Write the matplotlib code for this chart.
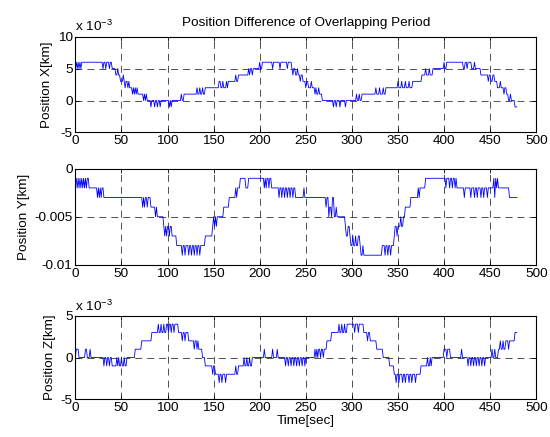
import numpy as np
import matplotlib
matplotlib.use("Agg")
import matplotlib.pyplot as plt

plt.rcParams['font.family'] = ['Liberation Sans', 'DejaVu Sans']
plt.rcParams['mathtext.fontset'] = 'custom'
plt.rcParams['mathtext.rm'] = 'Liberation Sans'
plt.rcParams['lines.scale_dashes'] = False

# level changes: time [sec], level [1e-3 km]
x_time = [0, 1, 2, 3, 4, 5, 6, 7, 8,
          30, 31, 33, 34, 37, 38, 40,
          44, 46, 47, 49, 52, 53, 54, 55, 57, 58, 59,
          62, 63, 64, 65, 66, 67, 68, 74, 75, 76, 77, 78,
          82, 83, 86, 87, 89, 90, 92, 93, 102, 103, 104, 105,
          115, 116, 118, 132, 133, 135, 136, 138, 139, 141,
          156, 158, 160, 161, 164, 165, 166, 174, 175, 177,
          188, 189, 190, 192, 193, 200, 201, 203,
          214, 215, 222, 223, 230, 231, 235, 236, 237, 239, 241, 242,
          244, 245, 247, 250, 251, 253, 256, 257, 260, 261, 262, 264, 265, 268,
          280, 281, 283, 284, 287, 288, 293, 294,
          305, 306, 308, 309, 311,
          326, 327, 330, 331, 334, 335, 337,
          350, 351, 354, 355, 358, 359, 362, 363, 366,
          376, 380, 381, 384, 385, 388, 400, 401, 403,
          421, 423, 425, 426, 430, 433, 434, 440,
          448, 449, 451, 453, 455, 458, 461, 462, 465, 466, 468, 470, 472, 473, 477, 479]
x_level = [5, 6, 5, 6, 5, 6, 5, 6, 6,
           5, 6, 5, 6, 5, 6, 5,
           4, 5, 4, 3, 4, 3, 2, 3, 2, 3, 2,
           1, 2, 1, 2, 1, 2, 1, 0, 1, 0, 1, 0,
           -1, 0, -1, 0, -1, 0, -1, 0, -1, 0, -1, 0,
           1, 0, 1, 2, 1, 2, 1, 2, 1, 2,
           3, 2, 3, 2, 3, 2, 3, 4, 3, 4,
           5, 4, 5, 4, 5, 6, 5, 6,
           5, 6, 5, 6, 5, 6, 5, 4, 5, 4, 5, 4,
           3, 4, 3, 2, 3, 2, 3, 2, 1, 2, 1, 2, 1, 0,
           -1, 0, -1, 0, -1, 0, -1, 0,
           1, 0, 1, 0, 1,
           2, 1, 2, 1, 2, 1, 2,
           3, 2, 3, 2, 3, 2, 3, 2, 3,
           4, 5, 4, 5, 4, 5, 6, 5, 6,
           5, 6, 5, 6, 5, 6, 5, 4,
           3, 4, 3, 4, 3, 2, 3, 2, 1, 2, 1, 0, 1, 0, -1, -1]

y_time = [0, 2, 3, 4, 5, 6, 7, 8, 9, 10, 11, 12, 13, 15,
          24, 25, 26, 27, 28, 29, 31, 33,
          73, 74, 75, 76, 78, 79, 82, 87, 88, 89, 91,
          96, 97, 98, 99, 100, 102, 103, 105, 110,
          116, 117, 119, 120, 123, 124, 126, 127, 129, 130, 132, 133, 135, 136, 138,
          141, 149, 150, 151, 152, 153, 154, 157, 161, 167, 174, 175, 176, 177, 179,
          185, 188, 205, 206, 207, 208, 210, 211, 213, 215,
          221, 222, 224, 225, 227, 228, 230, 231, 233, 234, 236, 237, 239, 248, 249,
          272, 273, 275, 276, 278, 279, 281, 283, 284, 286,
          293, 294, 296, 298, 299, 301, 302, 304, 305, 307, 309, 310, 312, 313, 315,
          333, 336, 337, 339, 340, 342, 343, 346, 347, 349, 350, 353, 354, 356, 358, 364,
          372, 373, 374, 375, 380,
          402, 403, 406, 407, 409, 410, 412, 413, 414,
          422, 423, 429, 430, 433, 434, 436, 437, 440, 441, 443, 444, 447, 448,
          454, 455, 456, 457, 458, 459, 460, 471, 479]
y_level = [-1, -2, -1, -2, -1, -2, -1, -2, -1, -2, -1, -2, -1, -2,
           -3, -2, -3, -2, -3, -2, -3, -3,
           -4, -3, -4, -3, -4, -3, -4, -5, -4, -5, -5,
           -6, -7, -6, -7, -6, -7, -6, -7, -8,
           -9, -8, -9, -8, -9, -8, -9, -8, -9, -8, -9, -8, -9, -8, -8,
           -7, -6, -5, -6, -5, -6, -5, -5, -4, -3, -2, -3, -2, -2, -1,
           -2, -1, -2, -1, -2, -1, -2, -1, -2, -2,
           -3, -2, -3, -2, -3, -2, -3, -2, -3, -2, -3, -2, -3, -2, -3,
           -4, -3, -5, -4, -5, -3, -5, -4, -5, -5,
           -6, -7, -6, -7, -8, -7, -8, -7, -8, -7, -8, -9, -8, -9, -9,
           -8, -9, -8, -9, -8, -9, -8, -7, -6, -7, -6, -5, -6, -5, -4, -3,
           -2, -3, -2, -2, -1,
           -2, -1, -2, -1, -2, -1, -2, -1, -2,
           -3, -2, -3, -2, -3, -2, -3, -2, -3, -2, -3, -2, -3, -2,
           -1, -3, -1, -2, -1, -2, -2, -3, -3]

z_time = [0, 1, 4, 11, 13, 16, 17, 18,
          31, 32, 34, 35, 37, 38, 40, 45, 46, 47, 48, 50, 51, 53, 54, 56, 58,
          65, 72, 83, 90, 91, 93, 94, 96, 97, 99,
          101, 102, 104, 105, 107, 108, 112, 116, 117, 119, 120, 123,
          129, 130, 132, 133, 134, 138, 141, 149, 150, 152,
          156, 157, 159, 160, 163, 164, 174, 175, 177, 179, 183, 184, 186, 187, 189, 190, 192,
          205, 206, 214, 215, 219, 220,
          228, 229, 231, 232, 234, 235, 237, 238, 240, 241, 243, 244, 246, 247, 249, 250, 253,
          260, 261, 262, 263, 264, 266, 267, 269, 270, 273, 278,
          286, 287, 289, 290, 292, 293, 295, 297, 303, 304, 307, 308, 313,
          317, 318, 320, 322, 327, 334, 341, 346,
          348, 349, 351, 352, 355, 356, 358, 359, 362, 363, 365, 366, 369, 370, 372, 375,
          382, 383, 385, 386, 387, 400, 403, 404, 407, 419, 420,
          426, 427, 429, 430, 432, 433, 435, 436, 438, 439, 441, 442, 444, 445, 447,
          452, 453, 455, 456, 459, 461, 462, 464, 465, 467, 470, 471, 477, 479]
z_level = [0, 1, 0, 1, 0, 1, 0, 0,
           -1, 0, -1, 0, -1, 0, -1, 0, -1, 0, -1, 0, -1, 0, -1, 0, 0,
           1, 2, 3, 4, 3, 4, 3, 4, 3, 4,
           3, 4, 3, 4, 3, 4, 3, 2, 3, 2, 3, 2,
           1, 2, 1, 2, 1, 0, -1, -2, -1, -2,
           -3, -2, -3, -2, -3, -2, -1, -2, -1, -1, 0, -1, 0, -1, 0, -1, 0,
           1, 0, 1, 0, 1, 0,
           -1, 0, -1, 0, -1, 0, -1, 0, -1, 0, -1, 0, -1, 0, -1, 0, 0,
           1, 0, 1, 0, 1, 0, 1, 0, 1, 2, 3,
           4, 3, 4, 3, 4, 3, 4, 4, 3, 4, 3, 4, 3,
           2, 3, 2, 2, 1, 0, -1, -2,
           -3, -2, -3, -2, -3, -2, -3, -2, -3, -2, -3, -2, -3, -2, -2, -1,
           0, -1, 0, -1, 0, 1, 0, 1, 0, 1, 0,
           -1, 0, -1, 0, -1, 0, -1, 0, -1, 0, -1, 0, -1, 0, 0,
           1, 0, 1, 0, 1, 2, 1, 2, 1, 2, 1, 2, 3, 3]


def held(times, levels):
    # each level holds until one sample (1 s) before the next change,
    # so changes are drawn as 1 s slopes like the sampled original
    tt, vv = [], []
    for i, (t, v) in enumerate(zip(times, levels)):
        tt.append(t)
        vv.append(v)
        if i + 1 < len(times) and times[i + 1] - 1 > t:
            tt.append(times[i + 1] - 1)
            vv.append(v)
    return np.array(tt, dtype=float), np.array(vv, dtype=float)


fig = plt.figure(figsize=(5.5, 4.37), dpi=100)
ax1 = fig.add_axes([0.137, 0.697, 0.838, 0.219])
ax2 = fig.add_axes([0.137, 0.394, 0.838, 0.220])
ax3 = fig.add_axes([0.137, 0.0863, 0.838, 0.191])

fs = 9.7
dash = (0, (5, 3.6))


def style(ax, ylim, yticks, ylabels, ylabel):
    ax.set_xlim(0, 500)
    ax.set_xticks(np.arange(0, 501, 50))
    ax.set_ylim(*ylim)
    ax.set_yticks(yticks)
    ax.set_yticklabels(ylabels)
    ax.tick_params(direction='in', top=True, right=True, labelsize=fs,
                   length=3, width=0.6, pad=2)
    ax.grid(True, color='0.2', linestyle=dash, linewidth=0.6)
    for sp in ax.spines.values():
        sp.set_linewidth(0.8)
    ax.set_ylabel(ylabel, fontsize=fs, labelpad=3)


t, v = held(x_time, x_level)
ax1.plot(t, v, color='b', linewidth=0.6)
style(ax1, (-5, 10), [-5, 0, 5, 10], ['-5', '0', '5', '10'], 'Position X[km]')
ax1.text(0, 1.06, r'x 10$^{-3}$', transform=ax1.transAxes, fontsize=fs)
ax1.set_title('Position Difference of Overlapping Period', fontsize=fs, pad=8)

t, v = held(y_time, y_level)
ax2.plot(t, v * 1e-3, color='b', linewidth=0.6)
style(ax2, (-0.01, 0), [-0.01, -0.005, 0], ['-0.01', '-0.005', '0'], 'Position Y[km]')

t, v = held(z_time, z_level)
ax3.plot(t, v, color='b', linewidth=0.6)
style(ax3, (-5, 5), [-5, 0, 5], ['-5', '0', '5'], 'Position Z[km]')
ax3.text(0, 1.06, r'x 10$^{-3}$', transform=ax3.transAxes, fontsize=fs)
ax3.set_xlabel('Time[sec]', fontsize=fs, labelpad=1)

fig.savefig('out.png', dpi=100)
